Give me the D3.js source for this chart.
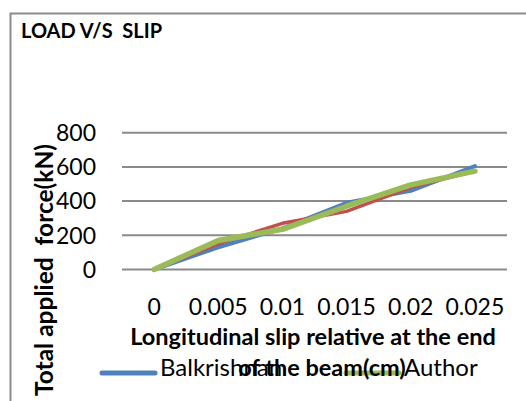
<!DOCTYPE html>
<html>
<head>
<meta charset="utf-8">
<script src="https://cdn.jsdelivr.net/npm/d3@7"></script>
<style>
  body { margin: 0; background: #fff; }
  text { font-family: Lato, "Open Sans", sans-serif; fill: #000; }
</style>
</head>
<body>
<script>
//load vs slip line chart

//categories on the x axis
var slipCats = ["0", "0.005", "0.01", "0.015", "0.02", "0.025"];
//series values (kN)
var balkrishnan = [0, 130, 240, 390, 460, 605];
var series2 = [0, 150, 270, 340, 480, 575];
var author = [0, 170, 235, 370, 495, 575];
//y tick labels
var yTicks = [0, 200, 400, 600, 800];

var width = 526, height = 401;

var svg = d3.select("body")
    .append("svg")
    .attr("width", width)
    .attr("height", height);

//chart frame (top + left borders, rest is cropped away)
svg.append("path")
    .attr("d", "M10.5,401 L10.5,13.5 L526,13.5")
    .attr("fill", "none")
    .attr("stroke", "#8c8c8c")
    .attr("stroke-width", 2);

//title
svg.append("text")
    .attr("x", 21)
    .attr("y", 38)
    .style("font-size", "20px")
    .style("font-weight", "bold")
    .style("white-space", "pre")
    .text("LOAD V/S  SLIP");

//scales
var x = d3.scaleBand()
    .domain(slipCats)
    .range([122, 507]);

var y = d3.scaleLinear()
    .domain([0, 800])
    .range([269.5, 132.7]);

//gridlines
svg.selectAll(".grid")
    .data(yTicks)
    .enter()
    .append("line")
    .attr("class", "grid")
    .attr("x1", 122)
    .attr("x2", 507)
    .attr("y1", function(d){ return y(d); })
    .attr("y2", function(d){ return y(d); })
    .attr("stroke", "#8a8a8a")
    .attr("stroke-width", 2);

//y axis labels
svg.selectAll(".ylab")
    .data(yTicks)
    .enter()
    .append("text")
    .attr("class", "ylab")
    .attr("x", 96)
    .attr("y", function(d){ return y(d); })
    .attr("dy", "0.36em")
    .attr("text-anchor", "end")
    .style("font-size", "23px")
    .text(function(d){ return d; });

//x axis labels
svg.selectAll(".xlab")
    .data(slipCats)
    .enter()
    .append("text")
    .attr("class", "xlab")
    .attr("x", function(d){ return x(d) + x.bandwidth() / 2; })
    .attr("y", 315)
    .attr("text-anchor", "middle")
    .style("font-size", "23px")
    .text(function(d){ return d; });

//lines
var line = d3.line()
    .x(function(d, i){ return x(slipCats[i]) + x.bandwidth() / 2; })
    .y(function(d){ return y(d); });

var seriesList = [
    {name: "Balkrishnan", values: balkrishnan, color: "#4f81bd", w: 4},
    {name: "Series2", values: series2, color: "#c0504d", w: 3.5},
    {name: "Author", values: author, color: "#9bbb59", w: 5.5}
];

svg.selectAll(".series")
    .data(seriesList)
    .enter()
    .append("path")
    .attr("class", "series")
    .attr("d", function(d){ return line(d.values); })
    .attr("fill", "none")
    .attr("stroke", function(d){ return d.color; })
    .attr("stroke-width", function(d){ return d.w; })
    .attr("stroke-linecap", "round")
    .attr("stroke-linejoin", "round");

//legend (drawn before the axis title so the title overlaps it)
var legendItems = [
    {name: "Balkrishnan", color: "#4f81bd", x: 102},
    {name: "Author", color: "#9bbb59", x: 346}
];
var leg = svg.selectAll(".leg")
    .data(legendItems)
    .enter()
    .append("g")
    .attr("class", "leg");
leg.append("line")
    .attr("x1", function(d){ return d.x; })
    .attr("x2", function(d){ return d.x + 53; })
    .attr("y1", 373)
    .attr("y2", 373)
    .attr("stroke", function(d){ return d.color; })
    .attr("stroke-width", 5)
    .attr("stroke-linecap", "round");
leg.append("text")
    .attr("x", function(d){ return d.x + 58; })
    .attr("y", 376)
    .style("font-size", "24px")
    .text(function(d){ return d.name; });

//x axis title
svg.append("text")
    .attr("x", 313)
    .attr("y", 345)
    .attr("text-anchor", "middle")
    .style("font-size", "23.5px")
    .style("font-weight", "bold")
    .text("Longitudinal slip relative at the end");
svg.append("text")
    .attr("x", 322)
    .attr("y", 376)
    .attr("text-anchor", "middle")
    .style("font-size", "23.5px")
    .style("font-weight", "bold")
    .text("of the beam(cm)");

//y axis title
svg.append("text")
    .attr("transform", "translate(53,270) rotate(-90)")
    .attr("text-anchor", "middle")
    .style("font-size", "24.5px")
    .style("font-weight", "bold")
    .style("white-space", "pre")
    .text("Total applied  force(kN)");
</script>
</body>
</html>
